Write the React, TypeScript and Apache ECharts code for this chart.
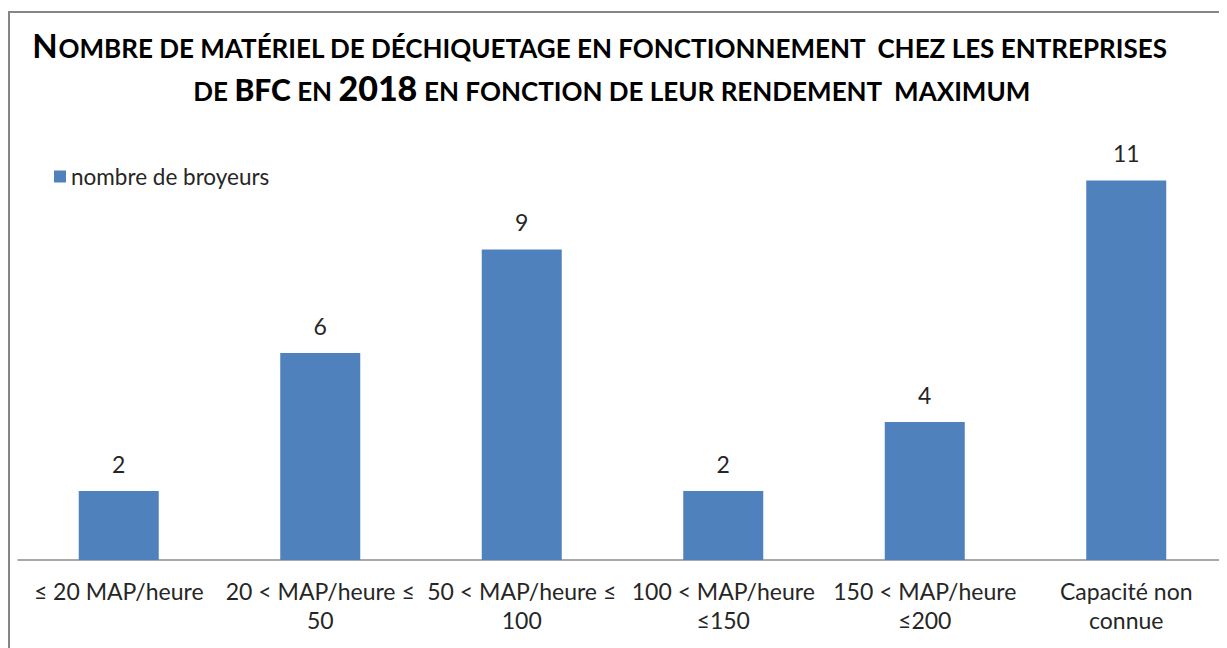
import React, { useEffect, useRef } from "react";
import * as echarts from "echarts";

const categories = [
  "≤ 20 MAP/heure",
  "20 < MAP/heure ≤\n50",
  "50 < MAP/heure ≤\n100",
  "100 < MAP/heure\n≤150",
  "150 < MAP/heure\n≤200",
  "Capacité non\nconnue",
];
const values = [2, 6, 9, 2, 4, 11];
const seriesName = "nombre de broyeurs";

const FONT = "Lato, 'Open Sans', sans-serif";

export default function App() {
  const ref = useRef<HTMLDivElement>(null);
  useEffect(() => {
    if (!ref.current) return;
    const chart = echarts.init(ref.current, null, { renderer: "svg" });
    const rich = {
      big: { fontSize: 33, fontWeight: "bold", fontFamily: FONT, color: "#000", verticalAlign: "bottom", lineHeight: 36 },
      small: { fontSize: 26, fontWeight: "bold", fontFamily: FONT, color: "#000", verticalAlign: "bottom", lineHeight: 36 },
      bigb: { fontSize: 30, fontWeight: 900, fontFamily: FONT, color: "#000", verticalAlign: "bottom", lineHeight: 36 },
      num: { fontSize: 34, fontWeight: 900, fontFamily: FONT, color: "#000", verticalAlign: "bottom", lineHeight: 36 },
    };
    chart.setOption({
      animation: false,
      textStyle: { fontFamily: FONT },
      graphic: [
        {
          type: "rect",
          shape: { x: 1, y: 4, width: 1400, height: 800 },
          style: { fill: "none", stroke: "#868686", lineWidth: 2 },
          silent: true,
        },
        {
          type: "text",
          x: 592,
          y: 53,
          style: {
            text:
              "{big|N}{small|OMBRE DE MATÉRIEL DE DÉCHIQUETAGE EN FONCTIONNEMENT  CHEZ LES ENTREPRISES}",
            rich,
            align: "center",
            verticalAlign: "bottom",
          },
        },
        {
          type: "text",
          x: 604,
          y: 96,
          style: {
            text:
              "{small|DE }{bigb|BFC}{small| EN }{num|2018}{small| EN FONCTION DE LEUR RENDEMENT  MAXIMUM}",
            rich,
            align: "center",
            verticalAlign: "bottom",
          },
        },
      ],
      legend: {
        left: 41,
        top: 152,
        itemWidth: 12,
        itemHeight: 12,
        itemGap: 6,
        icon: "rect",
        textStyle: { fontSize: 22.5, color: "#262626", fontFamily: FONT },
        data: [seriesName],
      },
      grid: { left: 10, width: 1212, top: 138, bottom: 88 },
      xAxis: {
        type: "category",
        data: categories,
        axisLine: { lineStyle: { color: "#8c8c8c", width: 1.5 } },
        axisTick: { show: false },
        axisLabel: {
          interval: 0,
          fontSize: 23,
          lineHeight: 29,
          margin: 16,
          color: "#262626",
          fontFamily: FONT,
        },
      },
      yAxis: {
        type: "value",
        min: 0,
        max: 12,
        show: false,
        splitLine: { show: false },
      },
      series: [
        {
          name: seriesName,
          type: "bar",
          data: values,
          barWidth: 80,
          itemStyle: { color: "#4F81BD" },
          label: {
            show: true,
            position: "top",
            distance: 16,
            fontSize: 23,
            color: "#262626",
            fontFamily: FONT,
          },
        },
      ],
    });
    return () => chart.dispose();
  }, []);
  return <div ref={ref} style={{ width: 1219, height: 640 }} />;
}
